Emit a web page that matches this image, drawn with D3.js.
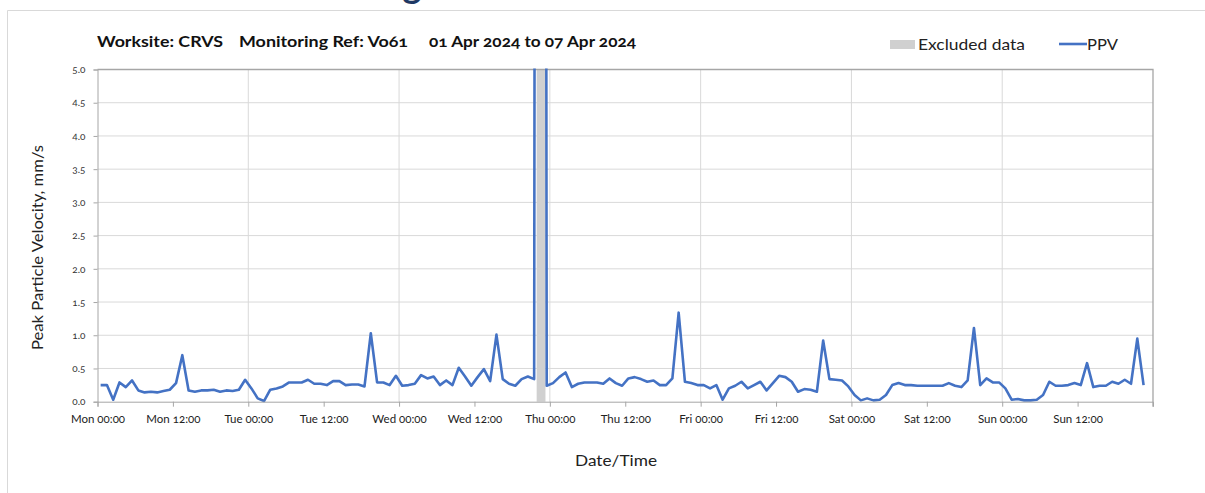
<!DOCTYPE html>
<html>
<head>
<meta charset="utf-8">
<script src="https://cdn.jsdelivr.net/npm/d3@7"></script>
<style>
  html, body { margin: 0; padding: 0; background: #ffffff; }
  svg { display: block; font-family: Lato, "Open Sans", sans-serif; font-variant-numeric: oldstyle-nums; }
</style>
</head>
<body>
<div id="chart"></div>
<script>
// ---------- data ----------
const titleParts = ["Worksite: CRVS", "Monitoring Ref: Vo61", "01 Apr 2024 to 07 Apr 2024"];
const yTicks = [0, 0.5, 1.0, 1.5, 2.0, 2.5, 3.0, 3.5, 4.0, 4.5, 5.0];
const firstSample = "2024-04-01T00:30:00Z";   // hourly samples
const domainStart = "2024-04-01T00:00:00Z";
const domainEnd = "2024-04-08T00:00:00Z";
// PPV (mm/s), one value per hour
const ppv = [
  0.25, 0.25, 0.03, 0.29, 0.22, 0.32, 0.17, 0.14, 0.15, 0.14, 0.16, 0.18,
  0.28, 0.70, 0.17, 0.15, 0.17, 0.17, 0.18, 0.15, 0.17, 0.16, 0.18, 0.33,
  0.20, 0.05, 0.01, 0.18, 0.20, 0.23, 0.29, 0.29, 0.29, 0.33, 0.27, 0.27,
  0.25, 0.31, 0.31, 0.25, 0.26, 0.26, 0.23, 1.03, 0.29, 0.29, 0.25, 0.39,
  0.24, 0.25, 0.27, 0.40, 0.35, 0.38, 0.25, 0.32, 0.25, 0.51, 0.38, 0.24,
  0.37, 0.49, 0.31, 1.01, 0.34, 0.27, 0.24, 0.34, 0.38, 0.34, 80.0, 0.24,
  0.28, 0.37, 0.44, 0.22, 0.27, 0.29, 0.29, 0.29, 0.27, 0.35, 0.28, 0.24,
  0.35, 0.37, 0.34, 0.30, 0.32, 0.25, 0.25, 0.35, 1.34, 0.30, 0.28, 0.25,
  0.25, 0.20, 0.25, 0.03, 0.20, 0.24, 0.30, 0.20, 0.25, 0.30, 0.17, 0.28,
  0.39, 0.37, 0.30, 0.15, 0.19, 0.18, 0.15, 0.92, 0.34, 0.33, 0.32, 0.23,
  0.10, 0.02, 0.05, 0.02, 0.03, 0.10, 0.25, 0.28, 0.25, 0.25, 0.24, 0.24,
  0.24, 0.24, 0.24, 0.28, 0.24, 0.22, 0.32, 1.11, 0.25, 0.35, 0.29, 0.29,
  0.20, 0.03, 0.04, 0.02, 0.02, 0.03, 0.10, 0.30, 0.24, 0.24, 0.25, 0.28,
  0.25, 0.58, 0.22, 0.24, 0.24, 0.30, 0.27, 0.33, 0.27, 0.95, 0.25
];
// Excluded data period
const excludedFrom = ["2024-04-03T21:54:00Z"];
const excludedTo = ["2024-04-03T23:18:00Z"];

// ---------- layout ----------
const W = 1205, H = 493;
const m = { left: 97.5, right: 1153, top: 69.5, bottom: 401.7 };

const svg = d3.select("#chart").append("svg").attr("width", W).attr("height", H);

// outer frame
svg.append("path").attr("d", `M7.5,${H} V10.5 H${W}`).attr("fill", "none").attr("stroke", "#d9d9d9").attr("stroke-width", 1);
// clipped page heading (only descender visible, as in the reference)
svg.append("text").attr("x", 412).attr("y", -2).attr("font-size", 36).attr("font-weight", "bold")
  .attr("fill", "#1f3864").attr("text-anchor", "middle").text("g");

const t0 = new Date(firstSample).getTime();
const data = ppv.map((v, i) => ({ t: new Date(t0 + i * 3600e3), v }));

const x = d3.scaleUtc().domain([new Date(domainStart), new Date(domainEnd)]).range([m.left, m.right]);
const y = d3.scaleLinear().domain([0, 5]).range([m.bottom, m.top]);

// gridlines
svg.append("g").selectAll("line").data(yTicks.slice(1)).join("line")
  .attr("x1", m.left).attr("x2", m.right).attr("y1", d => y(d)).attr("y2", d => y(d))
  .attr("stroke", "#d9d9d9").attr("stroke-width", 1);
const dayTicks = d3.utcDay.range(new Date(domainStart), new Date(domainEnd)).slice(1);
svg.append("g").selectAll("line").data(dayTicks).join("line")
  .attr("x1", d => x(d)).attr("x2", d => x(d)).attr("y1", m.top).attr("y2", m.bottom)
  .attr("stroke", "#d9d9d9").attr("stroke-width", 1);

// excluded band
svg.append("g").selectAll("rect").data(excludedFrom.map((f, i) => [new Date(f), new Date(excludedTo[i])])).join("rect")
  .attr("x", d => x(d[0])).attr("width", d => x(d[1]) - x(d[0]))
  .attr("y", m.top).attr("height", m.bottom - m.top).attr("fill", "#d0d0d0");

// top and right border
svg.append("path").attr("d", `M${m.left},${m.top} H${m.right} V${m.bottom + 5}`)
  .attr("fill", "none").attr("stroke", "#a6a6a6").attr("stroke-width", 1.3);

// clip for line
svg.append("clipPath").attr("id", "plotclip").append("rect")
  .attr("x", m.left).attr("y", m.top - 1).attr("width", m.right - m.left).attr("height", m.bottom - m.top + 3);

svg.append("path").datum(data)
  .attr("clip-path", "url(#plotclip)")
  .attr("fill", "none").attr("stroke", "#4472c4").attr("stroke-width", 2.6).attr("stroke-linejoin", "round")
  .attr("d", d3.line().x(d => x(d.t)).y(d => y(d.v)));

// y axis
const yAxis = svg.append("g").attr("transform", `translate(${m.left},0)`)
  .call(d3.axisLeft(y).tickValues(yTicks).tickFormat(d3.format(".1f")).tickSize(4).tickPadding(8));
yAxis.select(".domain").attr("stroke", "#a6a6a6");
yAxis.selectAll(".tick line").attr("stroke", "#a6a6a6");
yAxis.selectAll(".tick text").attr("font-size", 10).attr("fill", "#333").attr("font-family", "Lato, sans-serif");

// x axis
const xTickVals = d3.utcHour.every(12).range(new Date(domainStart), new Date(domainEnd));
const xAxis = svg.append("g").attr("transform", `translate(0,${m.bottom})`)
  .call(d3.axisBottom(x).tickValues(xTickVals).tickFormat(d3.utcFormat("%a %H:%M")).tickSize(5).tickPadding(8));
xAxis.select(".domain").attr("stroke", "#a6a6a6");
xAxis.selectAll(".tick line").attr("stroke", "#a6a6a6");
xAxis.selectAll(".tick text").attr("font-size", 11.5).attr("fill", "#222").attr("font-family", "Lato, sans-serif");

// axis titles
svg.append("text").attr("x", 616).attr("y", 466).attr("text-anchor", "middle")
  .attr("font-size", 16).attr("fill", "#222").attr("textLength", 82).attr("lengthAdjust", "spacingAndGlyphs").text("Date/Time");
svg.append("text").attr("transform", "translate(43,247.5) rotate(-90)").attr("text-anchor", "middle")
  .attr("font-size", 15).attr("fill", "#222").attr("textLength", 205).attr("lengthAdjust", "spacingAndGlyphs")
  .text("Peak Particle Velocity, mm/s");

// chart title (three parts)
const titleX = [97, 239, 429];
const titleLen = [126, 169, 207];
svg.append("g").selectAll("text").data(titleParts).join("text")
  .attr("x", (d, i) => titleX[i]).attr("y", 47).attr("font-size", 16).attr("font-weight", "bold")
  .attr("fill", "#111").attr("textLength", (d, i) => titleLen[i]).attr("lengthAdjust", "spacingAndGlyphs")
  .text(d => d);

// legend
const lg = svg.append("g");
lg.append("rect").attr("x", 890).attr("y", 40).attr("width", 25).attr("height", 9).attr("fill", "#d0d0d0");
lg.append("text").attr("x", 918).attr("y", 50).attr("font-size", 16).attr("fill", "#222")
  .attr("textLength", 107).attr("lengthAdjust", "spacingAndGlyphs").text("Excluded data");
lg.append("line").attr("x1", 1059).attr("x2", 1087).attr("y1", 44).attr("y2", 44)
  .attr("stroke", "#4472c4").attr("stroke-width", 2.6);
lg.append("text").attr("x", 1087).attr("y", 50).attr("font-size", 16).attr("fill", "#222")
  .attr("textLength", 31).attr("lengthAdjust", "spacingAndGlyphs").text("PPV");
</script>
</body>
</html>
